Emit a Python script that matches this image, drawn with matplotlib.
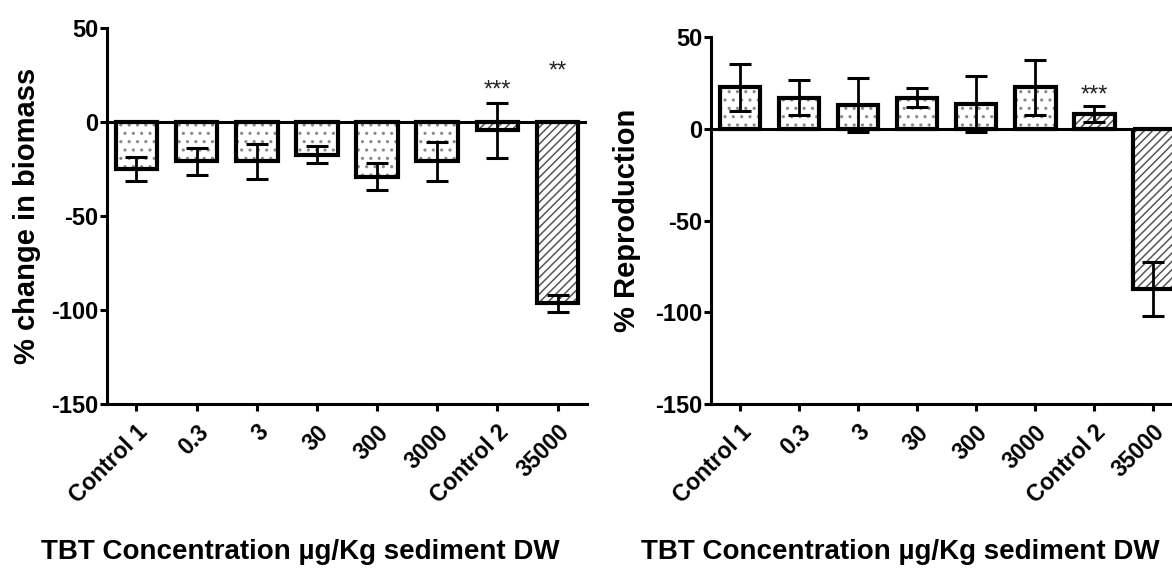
import matplotlib
matplotlib.use('Agg')
import matplotlib.pyplot as plt
from matplotlib import font_manager
import numpy as np

# ---- data ----
categories = ['Control 1', '0.3', '3', '30', '300', '3000', 'Control 2', '35000']
biomass_mean = [-25, -21, -21, -17.5, -29, -21, -4.5, -96.5]
biomass_err = [6.5, 7, 9.5, 4.5, 7, 10.5, 14.5, 4.5]
repro_mean = [22.5, 17, 13, 17, 13.5, 22.5, 8, -87.5]
repro_err = [13, 9.5, 14.5, 5, 15, 15, 4.5, 14.8]
bar_kind = ['dot', 'dot', 'dot', 'dot', 'dot', 'dot', 'diag', 'diag']
biomass_sig_idx = [6, 7]
biomass_sig_txt = ['***', '**']
biomass_sig_y = [17, 27]
repro_sig_idx = [6]
repro_sig_txt = ['***']
repro_sig_y = [18]
yticks = [50, 0, -50, -100, -150]
ytick_labels = ['50', '0', '-50', '-100', '-150']
xlabel = 'TBT Concentration µg/Kg sediment DW'
ylabels = ['% change in biomass', '% Reproduction']

# ---- fonts ----
def pick(names):
    for n in names:
        try:
            font_manager.findfont(n, fallback_to_default=False)
            return n
        except Exception:
            pass
    return 'DejaVu Sans'

narrow = pick(['Liberation Sans Narrow', 'Liberation Sans', 'DejaVu Sans'])
reg = pick(['Liberation Sans', 'DejaVu Sans'])
plt.rcParams['font.family'] = [narrow, 'DejaVu Sans']
plt.rcParams['hatch.linewidth'] = 1.1

W, H = 1172, 573
fig = plt.figure(figsize=(W / 100, H / 100), dpi=100)

def fx(px):
    return px / W

def fy(py):
    return 1 - py / H

def panel(rect, means, errs, sig_idx, sig_txt, sig_y, ylabel, ylabel_x, xlabel_x):
    ax = fig.add_axes(rect)
    x = np.arange(len(categories))
    width = 0.69
    for i in range(len(categories)):
        h = '..' if bar_kind[i] == 'dot' else '////'
        hc = '#8a8a8a' if bar_kind[i] == 'dot' else '#555555'
        ax.bar(x[i], means[i], width=width, color='white', edgecolor=hc,
               linewidth=0, hatch=h, zorder=2)
    ax.errorbar(x, means, yerr=errs, fmt='none', ecolor='black',
                elinewidth=2.0, capsize=8, capthick=2.2, zorder=3)
    ax.bar(x, means, width=width, facecolor='none', edgecolor='black',
           linewidth=3.0, zorder=4)
    ax.axhline(0, color='black', linewidth=2.2, zorder=5)
    for i, t, yv in zip(sig_idx, sig_txt, sig_y):
        ax.text(x[i], yv, t, ha='center', va='center', fontsize=17,
                fontfamily=reg, color='#222222')
    ax.set_xlim(-0.49, len(categories) - 0.51)
    ax.set_ylim(-150, 50)
    ax.set_yticks(yticks)
    ax.set_yticklabels(ytick_labels)
    ax.set_xticks(x)
    ax.set_xticklabels(categories, rotation=45, ha='right',
                       rotation_mode='anchor')
    for s in ['top', 'right']:
        ax.spines[s].set_visible(False)
    for s in ['left', 'bottom']:
        ax.spines[s].set_linewidth(2.2)
    ax.tick_params(axis='y', length=5, width=2.2, pad=1, labelsize=17)
    ax.tick_params(axis='x', length=5, width=2.2, pad=7, labelsize=16.5)
    for lab in ax.get_xticklabels() + ax.get_yticklabels():
        lab.set_fontweight('bold')
    ax.patch.set_visible(False)
    fig.text(fx(ylabel_x), (rect[1] + rect[1] + rect[3]) / 2, ylabel,
             rotation=90, ha='center', va='center', fontsize=21,
             fontweight='bold', fontfamily=reg)
    fig.text(fx(xlabel_x), fy(552), xlabel, ha='center', va='center',
             fontsize=20, fontweight='bold', fontfamily=[narrow, 'DejaVu Sans'])
    return ax

# left panel: x from 107 to 587 px, y from 28 (50) to 404 (-150)
panel([fx(107), fy(404), (587 - 107) / W, (404 - 28) / H],
      biomass_mean, biomass_err, biomass_sig_idx, biomass_sig_txt,
      biomass_sig_y, ylabels[0], 27, 300)
# right panel: x from 711, 58.9 px per slot, y from 37 (50) to 404 (-150)
panel([fx(711), fy(404), (8 * 58.9) / W, (404 - 37) / H],
      repro_mean, repro_err, repro_sig_idx, repro_sig_txt,
      repro_sig_y, ylabels[1], 627, 900)

fig.savefig('out.png', dpi=100)
